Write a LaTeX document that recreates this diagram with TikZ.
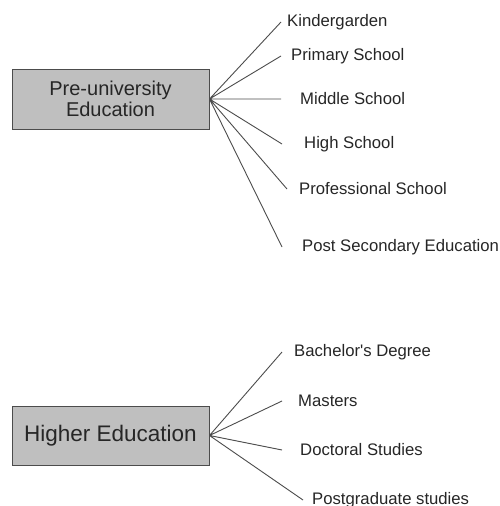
\documentclass[tikz,border=0pt]{standalone}
\usepackage{fontspec}
\setmainfont{Liberation Sans}
\usetikzlibrary{positioning}

\begin{document}
\begin{tikzpicture}[%
    x=1pt,
    y=-1pt,
    node distance=6pt,
    level/.style={%
      rectangle,
      draw=black!70,
      fill=black!25,
      line width=1pt,
      minimum width=197pt,
      minimum height=60pt,
      text=black!85,
      align=center
    },
    leaf/.style={%
      inner sep=0pt,
      text=black!85,
      font=\fontsize{16.7}{20}\selectfont
    },
    branch/.style={%
      draw=black!70,
      line width=0.9pt
    }
  ]
    \useasboundingbox (0,0) rectangle (500,506);

    \node[level, font=\fontsize{20}{21.5}\selectfont] (pre) at (110.5,99)  {Pre-university\\Education};
    \node[level, minimum height=59pt, font=\fontsize{22.5}{24}\selectfont] (higher) at (110.5,435.5) {Higher Education};

    % ends of the branches
    \coordinate (kend)  at (281,22);
    \coordinate (pend)  at (281,56);
    \coordinate (mend)  at (281,99);
    \coordinate (hend)  at (282,144);
    \coordinate (prend) at (287,189);
    \coordinate (psend) at (282,247);
    \coordinate (bend)  at (282,352);
    \coordinate (maend) at (282,401);
    \coordinate (dend)  at (282,450);
    \coordinate (pgend) at (303,500);

    \node[leaf] (kinder)  [right=6pt of kend]   {Kindergarden};
    \node[leaf] (primary) [right=10pt of pend]  {Primary School};
    \node[leaf] (middle)  [right=19pt of mend]  {Middle School};
    \node[leaf] (high)    [right=22pt of hend]  {High School};
    \node[leaf] (prof)    [right=12pt of prend] {Professional School};
    \node[leaf] (postsec) [right=20pt of psend] {Post Secondary Education};
    \node[leaf] (bach)    [right=12pt of bend]  {Bachelor\textquotesingle s Degree};
    \node[leaf] (masters) [right=16pt of maend] {Masters};
    \node[leaf] (doct)    [right=18pt of dend]  {Doctoral Studies};
    \node[leaf] (postgr)  [right=9pt of pgend]  {Postgraduate studies};

    \path[branch] (pre.east) -- (kend)
                  (pre.east) -- (pend)
                  (pre.east) -- (mend)
                  (pre.east) -- (hend)
                  (pre.east) -- (prend)
                  (pre.east) -- (psend);
    \path[branch] (higher.east) -- (bend)
                  (higher.east) -- (maend)
                  (higher.east) -- (dend)
                  (higher.east) -- (pgend);
  \end{tikzpicture}
\end{document}
